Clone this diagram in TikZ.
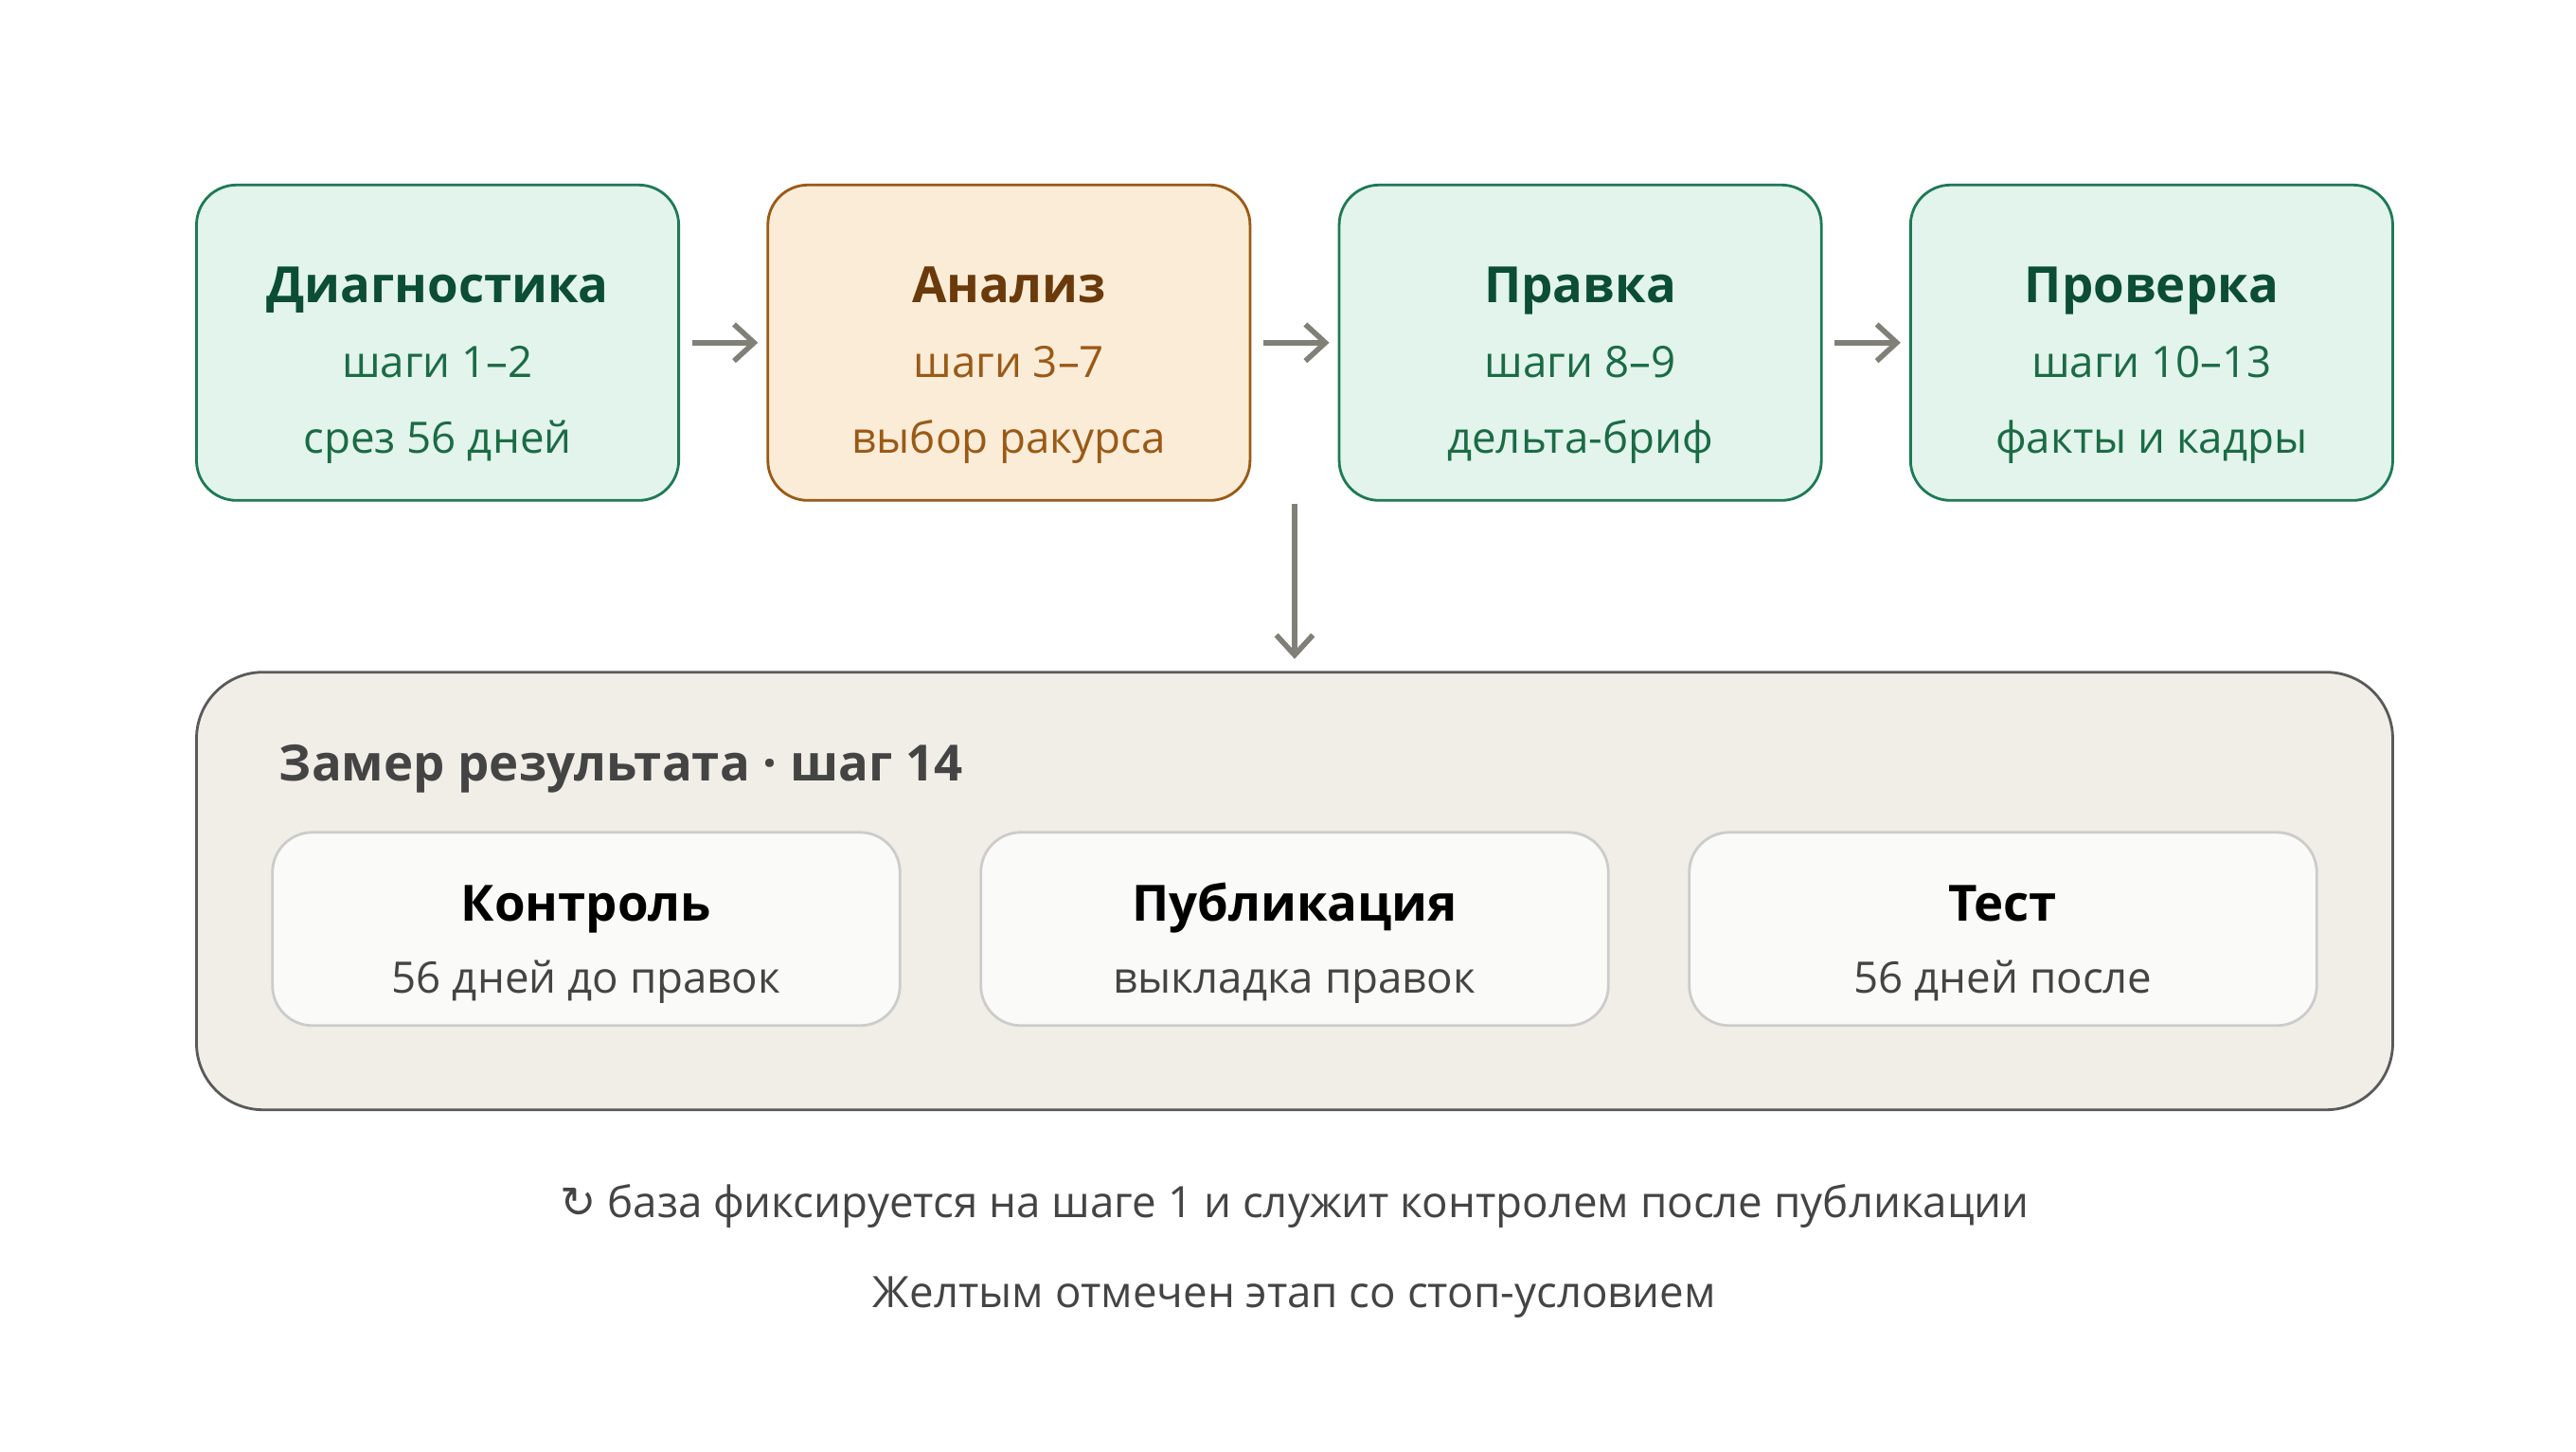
\documentclass[tikz,border=0pt]{standalone}
\usepackage{fontspec}
\setmainfont{Open Sans}
\newfontfamily\symfont{DejaVu Sans}
\usetikzlibrary{arrows.meta}
\definecolor{grfill}{HTML}{E2F4EC}
\definecolor{grline}{HTML}{1E7A55}
\definecolor{grtitle}{HTML}{0B4D36}
\definecolor{grtext}{HTML}{1B6B45}
\definecolor{orfill}{HTML}{FBECD8}
\definecolor{orline}{HTML}{9A5A16}
\definecolor{ortext}{HTML}{6B3A0A}
\definecolor{panfill}{HTML}{F1EEE7}
\definecolor{panline}{HTML}{5A5A5A}
\definecolor{boxfill}{HTML}{FAFAF8}
\definecolor{boxline}{HTML}{CCCCCC}
\definecolor{arr}{HTML}{808078}
\definecolor{txt}{HTML}{444444}
\tikzset{
  stage/.style={draw=grline, fill=grfill, rounded corners=12pt, line width=0.8pt,
    inner sep=0pt, outer sep=0pt,
    minimum width=292*0.01744cm, minimum height=191*0.01744cm},
  stop/.style={stage, draw=orline, fill=orfill},
  part/.style={draw=boxline, fill=boxfill, rounded corners=12pt, line width=0.8pt,
    inner sep=0pt, outer sep=0pt,
    minimum width=380*0.01744cm, minimum height=117*0.01744cm},
  flow/.style={-{Straight Barb[length=6pt,width=11pt]}, draw=arr, line width=1.6pt},
  head/.style={anchor=base, font=\fontsize{15}{18}\selectfont\bfseries},
  sub/.style={anchor=base, font=\fontsize{13}{16}\selectfont}
}
\begin{document}
\begin{tikzpicture}[x=0.01744cm, y=-0.01744cm]
	\useasboundingbox[fill=white] (0,0) rectangle (1560,879);
	
	% top row
	\node[stage] (diag) at (265,207.5) {};
	\node[stop]  (anal) at (611,207.5) {};
	\node[stage] (prav) at (957,207.5) {};
	\node[stage] (prov) at (1303,207.5) {};
	\foreach \n/\t/\a/\b/\tc/\sc in {diag/Диагностика/шаги 1--2/срез 56 дней/grtitle/grtext,
		anal/Анализ/шаги 3--7/выбор ракурса/ortext/orline,
		prav/Правка/шаги 8--9/дельта-бриф/grtitle/grtext,
		prov/Проверка/шаги 10--13/факты и кадры/grtitle/grtext}{
		\node[head, text=\tc] at ([yshift=24*0.01744cm]\n.center) {\t};
		\node[sub, text=\sc] at ([yshift=-21*0.01744cm]\n.center) {\a};
		\node[sub, text=\sc] at ([yshift=-67*0.01744cm]\n.center) {\b};
	}
	
	% arrows between stages
	\draw[flow] ([xshift=8*0.01744cm]diag.east) -- ([xshift=-6*0.01744cm]anal.west);
	\draw[flow] ([xshift=8*0.01744cm]anal.east) -- ([xshift=-6*0.01744cm]prav.west);
	\draw[flow] ([xshift=8*0.01744cm]prav.east) -- ([xshift=-6*0.01744cm]prov.west);
	
	% measurement panel
	\node[draw=panline, fill=panfill, rounded corners=20pt, line width=0.8pt,
	inner sep=0pt, outer sep=0pt,
	minimum width=1330*0.01744cm, minimum height=265*0.01744cm] (zamer) at (784,539.5) {};
	\coordinate (top) at (784,305);
	\draw[flow] (top) -- ([yshift=8*0.01744cm]zamer.north);
	\node[head, anchor=base west, text=txt] (ztitle) at (162,473) {Замер результата · шаг 14};
	
	\node[part] (kont) at (355,562.5) {};
	\node[part] (publ) at (784,562.5) {};
	\node[part] (test) at (1213,562.5) {};
	\foreach \n/\t/\a in {kont/Контроль/56 дней до правок, publ/Публикация/выкладка правок, test/Тест/56 дней после}{
		\node[head, text=black] at ([yshift=5*0.01744cm]\n.center) {\t};
		\node[sub, text=txt] at ([yshift=-39*0.01744cm]\n.center) {\a};
	}
	
	% footer
	\node[sub, text=txt] (note) at (784,737) {{\symfont ↻} база фиксируется на шаге 1 и служит контролем после публикации};
	\node[sub, text=txt] (legend) at (784,792) {Желтым отмечен этап со стоп-условием};
\end{tikzpicture}
\end{document}
